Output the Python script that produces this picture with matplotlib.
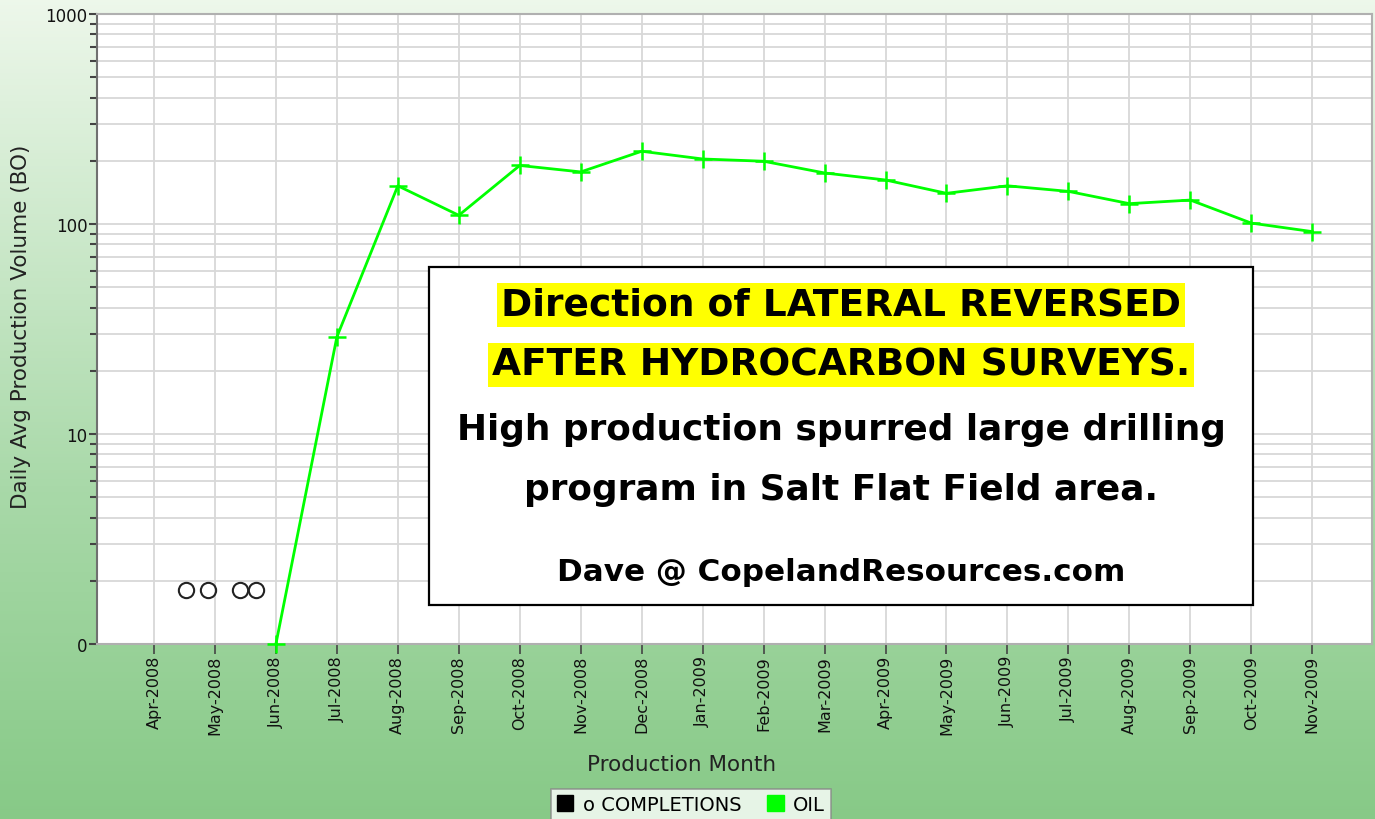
import numpy as np
import matplotlib
matplotlib.use("Agg")
import matplotlib.pyplot as plt
import matplotlib.transforms as mtransforms
from matplotlib.patches import Rectangle, Patch
from matplotlib.ticker import FixedLocator, NullFormatter, LogLocator

plt.rcParams['font.family'] = ['DejaVu Sans']

# ---- data ----
months = ["Apr-2008", "May-2008", "Jun-2008", "Jul-2008", "Aug-2008", "Sep-2008",
          "Oct-2008", "Nov-2008", "Dec-2008", "Jan-2009", "Feb-2009", "Mar-2009",
          "Apr-2009", "May-2009", "Jun-2009", "Jul-2009", "Aug-2009", "Sep-2009",
          "Oct-2009", "Nov-2009"]
oil_months = months[2:]
oil_values = [0, 29, 152, 110, 190, 177, 222, 204, 199, 175, 162, 140, 152, 143,
              125, 130, 101, 92]
completion_pos = [0.53, 0.89, 1.41, 1.67]   # in months after Apr-2008
completion_values = [1.8, 1.8, 1.8, 1.8]
y_major = [1, 10, 100, 1000]
y_labels = ["0", "10", "100", "1000"]

W, H = 1375, 820
fig = plt.figure(figsize=(W / 100, H / 100), dpi=100)

# background gradient
bg = fig.add_axes([0, 0, 1, 1], zorder=0)
bg.axis('off')
t = np.linspace(0, 1, 256)[:, None]
top = np.array([0.93, 0.97, 0.92])
mid = np.array([0.66, 0.85, 0.66])
bot = np.array([0.53, 0.79, 0.53])
grad = np.where(t < 0.6, top + (mid - top) * (t / 0.6), mid + (bot - mid) * ((t - 0.6) / 0.4))
img = np.repeat(grad[:, None, :], 2, axis=1).reshape(256, 2, 3)
bg.imshow(img, aspect='auto', extent=[0, 1, 0, 1], origin='upper')
bg.set_xlim(0, 1); bg.set_ylim(0, 1)

L, R, T, B = 97, 1372, 15, 645
ax = fig.add_axes([L / W, 1 - B / H, (R - L) / W, (B - T) / H], zorder=1)
ax.set_facecolor('white')

x_idx = np.arange(len(months))
oil_x = [months.index(m) for m in oil_months]
oil_plot = np.maximum(np.array(oil_values, dtype=float), 1)

ax.plot(oil_x, oil_plot, color='#00ff00', lw=2, marker='+', ms=13, mew=1.8,
        zorder=3, clip_on=False)
ax.plot(completion_pos, completion_values, ls='none', marker='o', ms=11,
        mfc='none', mec='#222222', mew=1.5, zorder=3)

ax.set_yscale('log')
ax.set_ylim(1, 1000)
ax.set_xlim(-0.935, 19.98)

ax.yaxis.set_major_locator(FixedLocator(y_major))
ax.set_yticklabels(y_labels)
ax.yaxis.set_minor_locator(LogLocator(base=10, subs=np.arange(2, 10)))
ax.yaxis.set_minor_formatter(NullFormatter())
ax.set_xticks(x_idx)
ax.set_xticklabels(months, rotation=90, fontsize=11.5, color='#111111')
shift = mtransforms.ScaledTranslation(4 / 100, 0, fig.dpi_scale_trans)
for lab in ax.get_xticklabels():
    lab.set_transform(lab.get_transform() + shift)

ax.tick_params(axis='y', which='major', length=6, width=1.5, color='#444444',
               labelsize=12, labelcolor='#111111', pad=1)
ax.tick_params(axis='y', which='minor', length=5, width=1.5, color='#444444')
ax.tick_params(axis='x', which='major', length=7, width=1.2, color='#444444', pad=1)

ax.grid(True, which='both', axis='y', color='#d8d8d8', lw=1.3)
ax.grid(True, which='major', axis='x', color='#d8d8d8', lw=1.3)
ax.set_axisbelow(True)
for s in ['top', 'right', 'bottom']:
    ax.spines[s].set_color('#b0b0b0')
    ax.spines[s].set_linewidth(1.5)
ax.spines['left'].set_color('#707070')
ax.spines['left'].set_linewidth(1.5)

fig.text(21 / W, 1 - 327 / H, "Daily Avg Production Volume (BO)", rotation=90,
         ha='center', va='center', fontsize=15.5, color='#222222')
fig.text(682 / W, 1 - 765 / H, "Production Month", ha='center', va='center',
         fontsize=15.5, color='#222222')

# annotation box
fig.patches.append(Rectangle((429 / W, 1 - 606 / H), (1253 - 429) / W, (606 - 268) / H,
                             transform=fig.transFigure, facecolor='white',
                             edgecolor='black', lw=1.6, zorder=5))
cx = 841 / W
hl = dict(facecolor='#ffff00', edgecolor='none', boxstyle='square,pad=0.1')
fig.text(cx, 1 - 306 / H, "Direction of LATERAL REVERSED", ha='center', va='center',
         fontsize=27, fontweight='bold', bbox=hl, zorder=6)
fig.text(cx, 1 - 366 / H, "AFTER HYDROCARBON SURVEYS.", ha='center', va='center',
         fontsize=27, fontweight='bold', bbox=hl, zorder=6)
fig.text(cx, 1 - 430 / H, "High production spurred large drilling", ha='center',
         va='center', fontsize=25.8, fontweight='bold', zorder=6)
fig.text(cx, 1 - 490 / H, "program in Salt Flat Field area.", ha='center',
         va='center', fontsize=25.8, fontweight='bold', zorder=6)
fig.text(cx, 1 - 573 / H, "Dave @ CopelandResources.com", ha='center',
         va='center', fontsize=22.3, fontweight='bold', zorder=6)

# legend
handles = [Patch(facecolor='black', edgecolor='black', label='o COMPLETIONS'),
           Patch(facecolor='#00ff00', edgecolor='#00ff00', label='OIL')]
leg = fig.legend(handles=handles, loc='upper center', bbox_to_anchor=(691 / W, 1 - 790 / H),
                 ncol=2, frameon=True, fancybox=False, fontsize=14,
                 handlelength=0.85, handleheight=0.85, handletextpad=0.5,
                 columnspacing=1.3, borderpad=0.3, borderaxespad=0,
                 edgecolor='#888888')
leg.get_frame().set_linewidth(1.2)
leg.set_zorder(7)

fig.savefig("out.png", dpi=100)
